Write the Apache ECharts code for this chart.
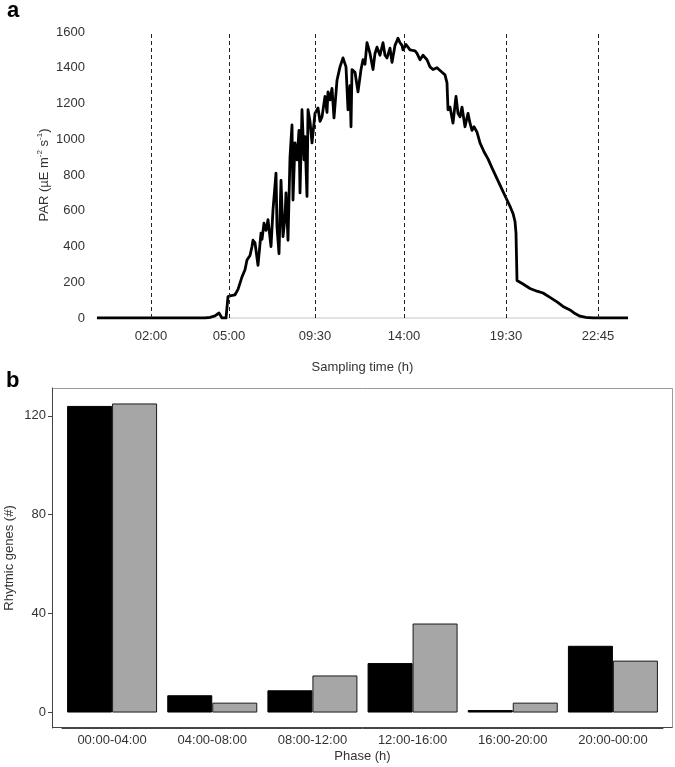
<!DOCTYPE html>
<html>
<head>
<meta charset="utf-8">
<script src="https://cdn.jsdelivr.net/npm/echarts@6/dist/echarts.min.js"></script>
<style>
  html, body { margin: 0; padding: 0; background: #fff; }
  #chart { width: 675px; height: 767px; }
</style>
</head>
<body>
<div id="chart"></div>
<script>
// panel a: PAR trace, x is the sample index along the sampling day
const sampleIdx = [
  0, 108, 113, 118, 122, 124, 125, 129, 131, 134,
  138, 141, 143, 145, 148, 150, 153, 155, 156, 158,
  160, 161, 164, 165, 167, 169, 171, 174, 176, 179,
  180, 182, 184, 186, 188, 189, 191, 193, 195, 196,
  198, 200, 202, 203, 205, 207, 208, 210, 211, 213,
  215, 218, 221, 223, 225, 228, 230, 231, 233, 235,
  237, 240, 243, 246, 249, 251, 253, 254, 255, 258,
  261, 264, 266, 268, 270, 273, 276, 278, 280, 283,
  286, 288, 290, 293, 295, 298, 301, 303, 305, 306,
  309, 311, 313, 315, 318, 320, 323, 326, 330, 333,
  336, 340, 345, 348, 350, 351, 353, 356, 359, 361,
  363, 365, 368, 371, 373, 375, 377, 380, 383, 387,
  391, 395, 400, 405, 410, 413, 416, 418, 419, 420,
  426, 433, 440, 446, 453, 460, 466, 473, 478, 483,
  489, 496, 531
];
const par = [
  0, 0, 4, 12, 28, 35, 0, 0, 120, 125,
  130, 160, 155, 230, 270, 325, 350, 400, 435, 420,
  425, 295, 475, 440, 530, 490, 550, 400, 605, 810,
  510, 360, 770, 455, 565, 700, 435, 900, 1080, 660,
  980, 885, 1050, 700, 1165, 885, 1015, 680, 1165, 1100,
  980, 1145, 1175, 1100, 1125, 1240, 1150, 1265, 1220, 1285,
  1120, 1330, 1405, 1455, 1405, 1165, 1300, 1070, 1390, 1375,
  1265, 1390, 1445, 1420, 1540, 1480, 1390, 1480, 1515, 1470,
  1540, 1470, 1455, 1510, 1430, 1525, 1565, 1540, 1525, 1500,
  1530, 1525, 1500, 1510, 1495, 1480, 1445, 1470, 1445, 1405,
  1390, 1400, 1375, 1360, 1315, 1165, 1180, 1090, 1240, 1145,
  1125, 1180, 1070, 1145, 1090, 1050, 1070, 1040, 980, 930,
  890, 840, 780, 720, 660, 625, 585, 540, 475, 210,
  190, 165, 150, 140, 115, 90, 65, 45, 25, 10,
  3, 0, 0
];
const samplingTicks = [54, 132, 218, 307, 409, 501];
const samplingLabels = ["02:00", "05:00", "09:30", "14:00", "19:30", "22:45"];

// panel b: rhythmic genes per phase
const phases = ["00:00-04:00", "04:00-08:00", "08:00-12:00", "12:00-16:00", "16:00-20:00", "20:00-00:00"];
const genesBlack = [124, 7, 9, 20, 1, 27];
const genesGrey = [125, 4, 15, 36, 4, 21];
const geneTicks = [0, 40, 80, 120];

const textColor = "#333";
const font = "Liberation Sans, Arial, sans-serif";

const chart = echarts.init(document.getElementById("chart"), null, { renderer: "canvas" });
chart.setOption({
  animation: false,
  backgroundColor: "#fff",
  textStyle: { fontFamily: font },
  graphic: [
    { type: "text", left: 7, top: 0, style: { text: "a", font: "bold 22px " + font, fill: "#000" } },
    { type: "text", left: 6, top: 370, style: { text: "b", font: "bold 22px " + font, fill: "#000" } },
    // panel frame: light top/right, darker left/bottom like the axes
    {
      type: "rect", z: 0, silent: true,
      shape: { x: 52.5, y: 388.5, width: 620, height: 339 },
      style: { fill: "none", stroke: "#9a9a9a", lineWidth: 1 }
    },
    {
      type: "polyline", z: 1, silent: true,
      shape: { points: [[52.5, 388.5], [52.5, 727.5], [672.5, 727.5]] },
      style: { fill: "none", stroke: "#444", lineWidth: 1 }
    }
  ],
  grid: [
    { left: 97, top: 32, width: 531, height: 286, outerBoundsMode: "none" },
    { left: 62, top: 388, width: 601, height: 340, outerBoundsMode: "none" }
  ],
  xAxis: [
    {
      gridIndex: 0, type: "value", min: 0, max: 531,
      name: "Sampling time (h)", nameLocation: "middle", nameGap: 43,
      nameTextStyle: { color: textColor, fontSize: 13 },
      axisLine: { show: true, lineStyle: { color: "#d9d9d9", width: 1.5 } },
      axisTick: { show: false },
      splitLine: { show: false },
      axisLabel: {
        customValues: samplingTicks,
        color: textColor, fontSize: 13, margin: 12,
        formatter: v => samplingLabels[samplingTicks.indexOf(v)] ?? ""
      }
    },
    {
      gridIndex: 1, type: "category", data: phases,
      name: "Phase (h)", nameLocation: "middle", nameGap: 22,
      nameTextStyle: { color: textColor, fontSize: 13 },
      axisLine: { onZero: false, lineStyle: { color: "#444", width: 1 } },
      axisTick: { alignWithLabel: true, length: 4, lineStyle: { color: "#444" } },
      axisLabel: { color: textColor, fontSize: 13, margin: 6 }
    }
  ],
  yAxis: [
    {
      gridIndex: 0, type: "value", min: 0, max: 1600, interval: 200,
      name: "{t|PAR (µE m}{s|-2}{t| s}{s|-1}{t|)}", nameLocation: "middle", nameGap: 45,
      nameMoveOverlap: false,
      nameTextStyle: {
        rich: {
          t: { color: textColor, fontSize: 13, lineHeight: 16, fontFamily: font },
          s: { color: textColor, fontSize: 8, lineHeight: 16, verticalAlign: "top", fontFamily: font }
        }
      },
      axisLine: { show: false },
      axisTick: { show: false },
      splitLine: { show: false },
      axisLabel: { color: textColor, fontSize: 13, margin: 12, formatter: v => String(v) }
    },
    {
      gridIndex: 1, type: "value", min: -6.25, max: 131.25, offset: 10,
      name: "Rhytmic genes (#)", nameLocation: "middle", nameGap: 36,
      nameMoveOverlap: false,
      nameTextStyle: { color: textColor, fontSize: 13 },
      axisLine: { show: true, lineStyle: { color: "#444", width: 1 } },
      axisTick: { show: true, customValues: geneTicks, length: 4, lineStyle: { color: "#444" } },
      splitLine: { show: false },
      axisLabel: { customValues: geneTicks, color: textColor, fontSize: 13, margin: 6 }
    }
  ],
  series: [
    {
      type: "line", xAxisIndex: 0, yAxisIndex: 0,
      data: sampleIdx.map((x, i) => [x, par[i]]),
      showSymbol: false, symbol: "none",
      lineStyle: { color: "#000", width: 2.8, join: "round" },
      markLine: {
        silent: true, symbol: "none",
        label: { show: false },
        lineStyle: { color: "#222", width: 1, type: [4, 3] },
        data: samplingTicks.map(v => ({ xAxis: v }))
      }
    },
    {
      type: "bar", xAxisIndex: 1, yAxisIndex: 1,
      data: genesBlack, barWidth: 45, barGap: "0%",
      itemStyle: { color: "#000", borderColor: "#000", borderWidth: 1 }
    },
    {
      type: "bar", xAxisIndex: 1, yAxisIndex: 1,
      data: genesGrey, barWidth: 45, barGap: "0%",
      itemStyle: { color: "#a6a6a6", borderColor: "#1a1a1a", borderWidth: 1 }
    }
  ]
});
</script>
</body>
</html>
